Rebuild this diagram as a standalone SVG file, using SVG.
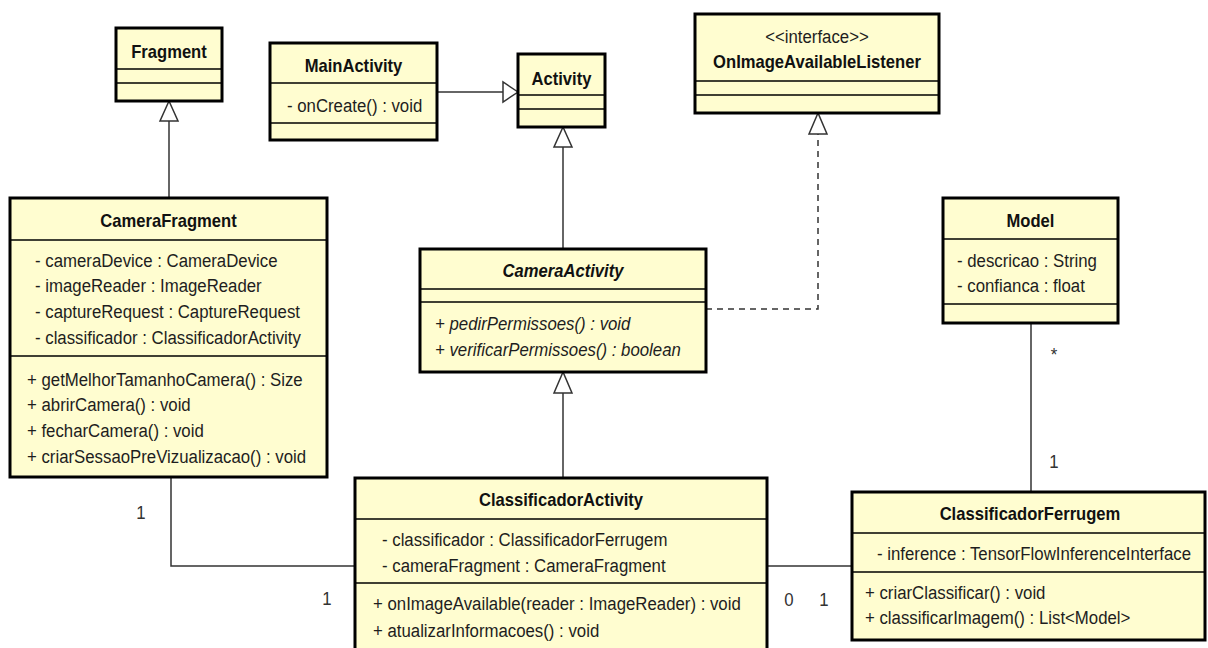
<svg xmlns="http://www.w3.org/2000/svg" width="1208" height="648" viewBox="0 0 1208 648">
  <style>
    .box { fill: #fffdd0; stroke: #000; stroke-width: 3; }
    .div { stroke: #000; stroke-width: 1.5; }
    text { transform-box: fill-box; transform-origin: center; transform: scaleY(1.08); }
    .title { font-family: "Liberation Sans", Arial, sans-serif; font-size: 16.6px; font-weight: bold; fill: #111; text-anchor: middle; }
    .txt { font-family: "Liberation Sans", Arial, sans-serif; font-size: 16.8px; fill: #1e1e1e; }
    .abs { font-style: italic; }
    .ctr { text-anchor: middle; }
    .edge { fill: none; stroke: #333; stroke-width: 1.5; }
    .dash { stroke-dasharray: 6 5; }
    .head { fill: #fff; stroke: #333; stroke-width: 1.5; }
    .mult { font-family: "Liberation Sans", Arial, sans-serif; font-size: 16.8px; fill: #333; text-anchor: middle; }
  </style>
  <rect width="1208" height="648" fill="#fff"/>

  <!-- connectors -->
  <g id="connectors">
    <!-- MainActivity generalizes Activity -->
    <path class="edge" d="M437 92 H503"/>
    <polygon class="head" points="518,92 503,82 503,102"/>
    <!-- CameraFragment generalizes Fragment -->
    <path class="edge" d="M169 198 V121"/>
    <polygon class="head" points="169,101 160,121 178,121"/>
    <!-- CameraActivity generalizes Activity -->
    <path class="edge" d="M563 249 V147"/>
    <polygon class="head" points="563,127 554,147 572,147"/>
    <!-- ClassificadorActivity generalizes CameraActivity -->
    <path class="edge" d="M563 478 V393"/>
    <polygon class="head" points="563,372 554,393 572,393"/>
    <!-- CameraActivity realizes OnImageAvailableListener -->
    <path class="edge dash" d="M706 309 H818 V134"/>
    <polygon class="head" points="818,113 809,134 827,134"/>
    <!-- CameraFragment - ClassificadorActivity -->
    <path class="edge" d="M171 477 V566 H355"/>
    <text class="mult" x="141" y="519">1</text>
    <text class="mult" x="327" y="605">1</text>
    <!-- ClassificadorActivity - ClassificadorFerrugem -->
    <path class="edge" d="M767 566 H852"/>
    <text class="mult" x="789" y="606">0</text>
    <text class="mult" x="824" y="606">1</text>
    <!-- Model - ClassificadorFerrugem -->
    <path class="edge" d="M1031 323 V492"/>
    <text class="mult" x="1054" y="361">*</text>
    <text class="mult" x="1054" y="468">1</text>
  </g>

  <g id="Fragment">
    <rect class="box" x="116" y="28" width="106" height="73"/>
    <line class="div" x1="116" y1="69" x2="222" y2="69"/>
    <line class="div" x1="116" y1="83" x2="222" y2="83"/>
    <text class="title" x="169" y="58">Fragment</text>
  </g>

  <g id="MainActivity">
    <rect class="box" x="270" y="43" width="167" height="97"/>
    <line class="div" x1="270" y1="83" x2="437" y2="83"/>
    <line class="div" x1="270" y1="123" x2="437" y2="123"/>
    <text class="title" x="353.5" y="72">MainActivity</text>
    <text class="txt" x="287" y="112">- onCreate() : void</text>
  </g>

  <g id="Activity">
    <rect class="box" x="518" y="54" width="87" height="73"/>
    <line class="div" x1="518" y1="95" x2="605" y2="95"/>
    <line class="div" x1="518" y1="109" x2="605" y2="109"/>
    <text class="title" x="561.5" y="85">Activity</text>
  </g>

  <g id="OnImageAvailableListener">
    <rect class="box" x="695" y="14" width="244" height="99"/>
    <line class="div" x1="695" y1="81" x2="939" y2="81"/>
    <line class="div" x1="695" y1="95" x2="939" y2="95"/>
    <text class="txt ctr" x="817" y="43">&lt;&lt;interface&gt;&gt;</text>
    <text class="title" x="817" y="68">OnImageAvailableListener</text>
  </g>

  <g id="CameraFragment">
    <rect class="box" x="10" y="198" width="317" height="279"/>
    <line class="div" x1="10" y1="240" x2="327" y2="240"/>
    <line class="div" x1="10" y1="356" x2="327" y2="356"/>
    <text class="title" x="168.5" y="227">CameraFragment</text>
    <text class="txt" x="35" y="267">- cameraDevice : CameraDevice</text>
    <text class="txt" x="35" y="292">- imageReader : ImageReader</text>
    <text class="txt" x="35" y="318">- captureRequest : CaptureRequest</text>
    <text class="txt" x="35" y="344">- classificador : ClassificadorActivity</text>
    <text class="txt" x="27" y="386">+ getMelhorTamanhoCamera() : Size</text>
    <text class="txt" x="27" y="411">+ abrirCamera() : void</text>
    <text class="txt" x="27" y="437">+ fecharCamera() : void</text>
    <text class="txt" x="27" y="463">+ criarSessaoPreVizualizacao() : void</text>
  </g>

  <g id="CameraActivity">
    <rect class="box" x="420" y="249" width="286" height="123"/>
    <line class="div" x1="420" y1="289" x2="706" y2="289"/>
    <line class="div" x1="420" y1="302" x2="706" y2="302"/>
    <text class="title abs" x="563" y="277">CameraActivity</text>
    <text class="txt abs" x="435" y="330">+ pedirPermissoes() : void</text>
    <text class="txt abs" x="435" y="356">+ verificarPermissoes() : boolean</text>
  </g>

  <g id="Model">
    <rect class="box" x="943" y="198" width="175" height="125"/>
    <line class="div" x1="943" y1="239" x2="1118" y2="239"/>
    <line class="div" x1="943" y1="304" x2="1118" y2="304"/>
    <text class="title" x="1030.5" y="227">Model</text>
    <text class="txt" x="957" y="267">- descricao : String</text>
    <text class="txt" x="957" y="292">- confianca : float</text>
  </g>

  <g id="ClassificadorActivity">
    <rect class="box" x="355" y="478" width="412" height="180"/>
    <line class="div" x1="355" y1="519" x2="767" y2="519"/>
    <line class="div" x1="355" y1="583" x2="767" y2="583"/>
    <text class="title" x="561" y="506">ClassificadorActivity</text>
    <text class="txt" x="382" y="546">- classificador : ClassificadorFerrugem</text>
    <text class="txt" x="382" y="572">- cameraFragment : CameraFragment</text>
    <text class="txt" x="373" y="610">+ onImageAvailable(reader : ImageReader) : void</text>
    <text class="txt" x="373" y="637">+ atualizarInformacoes() : void</text>
  </g>

  <g id="ClassificadorFerrugem">
    <rect class="box" x="852" y="492" width="353" height="148"/>
    <line class="div" x1="852" y1="533" x2="1205" y2="533"/>
    <line class="div" x1="852" y1="572" x2="1205" y2="572"/>
    <text class="title" x="1030" y="520">ClassificadorFerrugem</text>
    <text class="txt" x="877" y="560">- inference : TensorFlowInferenceInterface</text>
    <text class="txt" x="865" y="599">+ criarClassificar() : void</text>
    <text class="txt" x="865" y="624">+ classificarImagem() : List&lt;Model&gt;</text>
  </g>
</svg>
